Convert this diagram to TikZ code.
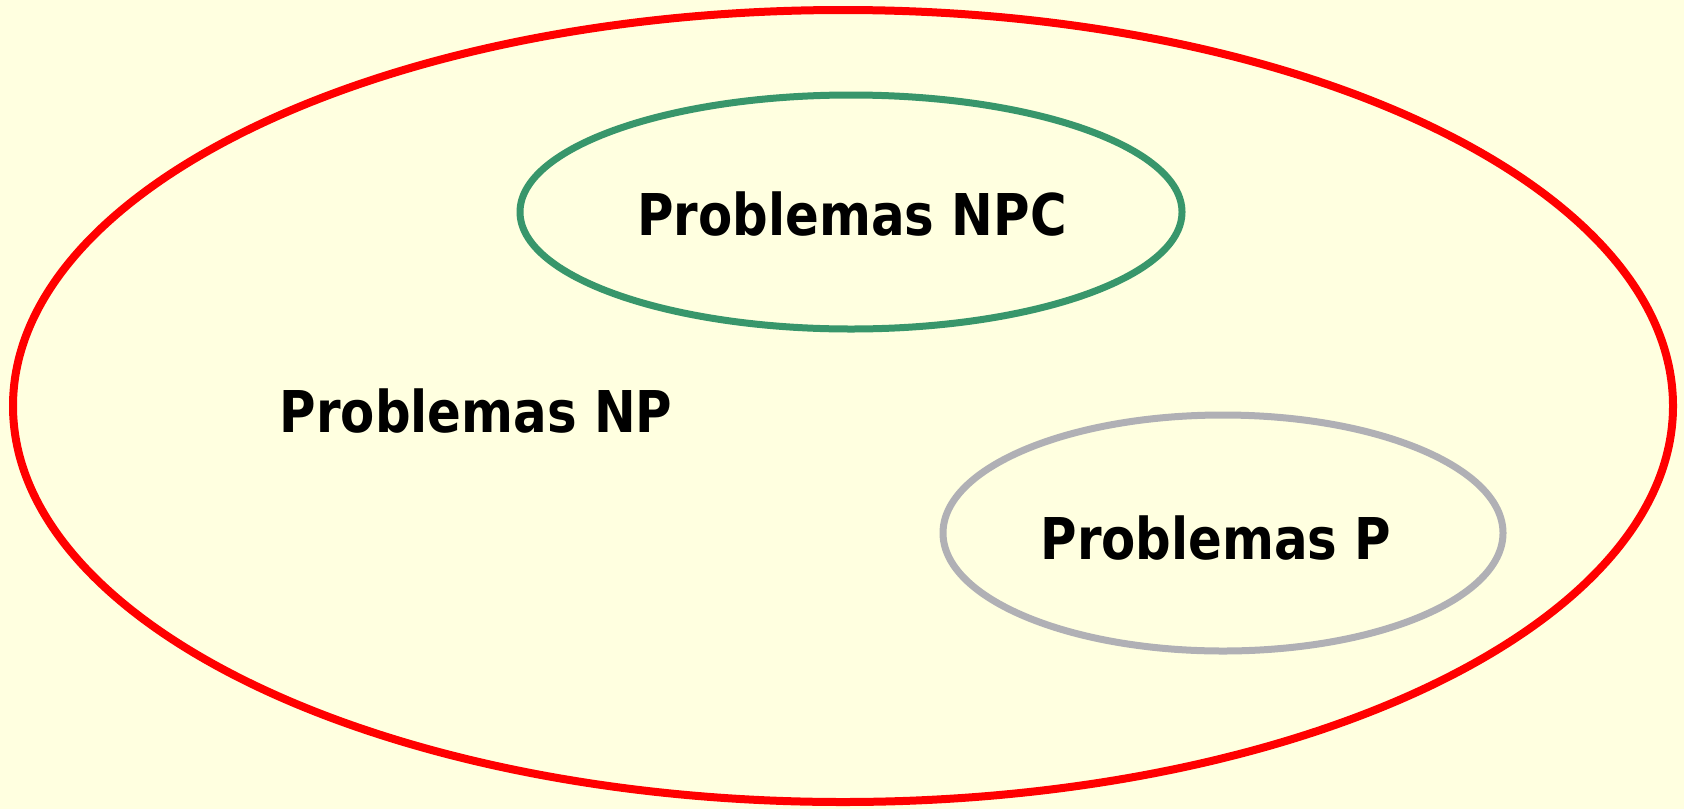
\documentclass[tikz,border=0pt]{standalone}
\usepackage{fontspec}
\newfontfamily\setfont{DejaVu Sans}[FakeStretch=0.865]
\definecolor{ffffdd}{rgb}{1.,1.,0.878}
\definecolor{ffqqqq}{rgb}{1.,0.,0.}
\definecolor{ggvvmm}{rgb}{0.22,0.59,0.42}
\definecolor{bbbbbb}{rgb}{0.69,0.69,0.71}
\tikzstyle{every node}=[font=\setfont\bfseries\fontsize{28.8}{34}\selectfont]
\tikzset{setlabel/.style={inner sep=0pt,text=black}}

\begin{document}
\begin{tikzpicture}[line cap=round,line join=round,x=0.5pt,y=-0.5pt]
            \useasboundingbox (0,0) rectangle (1684,809);
            \fill[color=ffffdd] (0,0) rectangle (1684,809);
            % sets
            \draw [line width=4pt,color=ffqqqq] (843,406) ellipse (830 and 396);
            \draw [line width=3.5pt,color=ggvvmm] (851,212) ellipse (331 and 117);
            \draw [line width=3.5pt,color=bbbbbb] (1223,533) ellipse (280 and 118);
            % labels
            \node[setlabel] (npc) at (852,214) {Problemas NPC};
            \node[setlabel] (np) at (476,411) {Problemas NP};
            \node[setlabel] (p) at (1216,538) {Problemas P};
\end{tikzpicture}
\end{document}
